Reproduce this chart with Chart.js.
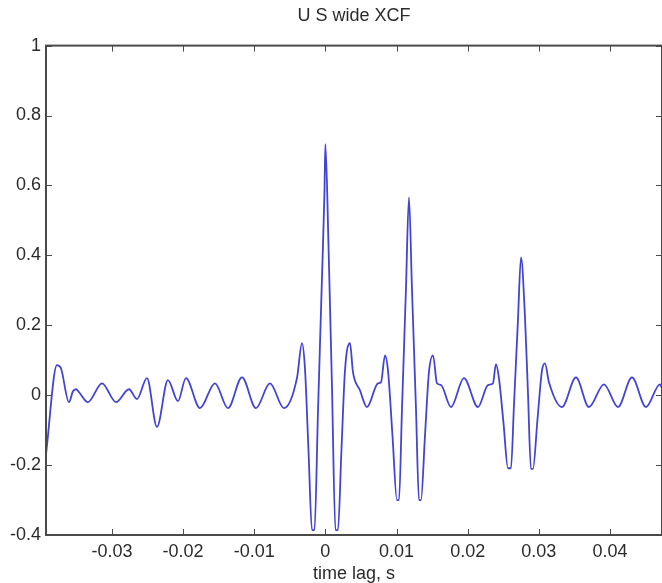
<!DOCTYPE html>
<html>
<head>
<meta charset="utf-8">
<script src="https://cdn.jsdelivr.net/npm/chart.js@4/dist/chart.umd.min.js"></script>
<style>
  html, body { margin: 0; padding: 0; background: #fff; }
  #wrap { width: 662px; height: 583px; position: relative; }
</style>
</head>
<body>
<div id="wrap"><canvas id="xcf"></canvas></div>
<script>
// time lag (s) and cross-correlation
const lags = [
  -0.03927, -0.03773, -0.03717, -0.03604, -0.03548, -0.03506, -0.03464, -0.03337,
  -0.03140, -0.02943, -0.02761, -0.02648, -0.02508, -0.02367, -0.02213, -0.02072,
  -0.01960, -0.01763, -0.01552, -0.01369, -0.01172, -0.00976, -0.00779, -0.00582,
  -0.00399, -0.00329, -0.00287, -0.00238, -0.00188, -0.00153, -0.00104, -0.00048,
  -0.00013, 0.00000, 0.00044, 0.00093, 0.00142, 0.00177, 0.00226, 0.00276,
  0.00346, 0.00388, 0.00486, 0.00585, 0.00739, 0.00782, 0.00838, 0.00880,
  0.00943, 0.01006, 0.01035, 0.01077, 0.01133, 0.01175, 0.01217, 0.01274,
  0.01316, 0.01344, 0.01400, 0.01456, 0.01513, 0.01569, 0.01625, 0.01766,
  0.01948, 0.02145, 0.02286, 0.02356, 0.02398, 0.02440, 0.02504, 0.02567,
  0.02609, 0.02651, 0.02707, 0.02750, 0.02806, 0.02848, 0.02890, 0.02918,
  0.02981, 0.03045, 0.03087, 0.03143, 0.03326, 0.03523, 0.03705, 0.03916,
  0.04113, 0.04310, 0.04507, 0.04703, 0.04732
];
const xcf = [
  -0.169, 0.086, 0.077, -0.020, 0.011, 0.017, 0.009, -0.020,
  0.034, -0.020, 0.017, -0.011, 0.049, -0.091, 0.043, -0.017,
  0.049, -0.037, 0.034, -0.037, 0.051, -0.037, 0.034, -0.037,
  0.049, 0.149, 0.077, -0.154, -0.386, -0.386, -0.049, 0.334,
  0.576, 0.718, 0.429, 0.023, -0.386, -0.386, -0.157, 0.071,
  0.149, 0.066, 0.014, -0.034, 0.034, 0.037, 0.114, 0.071,
  -0.114, -0.300, -0.300, -0.040, 0.306, 0.566, 0.306, -0.040,
  -0.300, -0.300, -0.117, 0.066, 0.114, 0.034, 0.029, -0.034,
  0.049, -0.034, 0.029, 0.034, 0.089, 0.049, -0.080, -0.209,
  -0.209, -0.029, 0.214, 0.394, 0.223, 0.006, -0.211, -0.211,
  -0.071, 0.071, 0.091, 0.037, -0.034, 0.051, -0.034, 0.031,
  -0.034, 0.051, -0.034, 0.031, 0.020
];
const xTicks = [-0.03, -0.02, -0.01, 0, 0.01, 0.02, 0.03, 0.04];
const yTicks = [-0.4, -0.2, 0, 0.2, 0.4, 0.6, 0.8, 1];

const FONT = "'Liberation Sans', Arial, sans-serif";
const INK = "#2b2b2b";

// matlab style box with inward ticks
const frame = {
  id: "frame",
  afterDatasetsDraw(chart) {
    const { ctx, chartArea: a, scales: { x, y } } = chart;
    ctx.save();
    ctx.strokeStyle = "#4a4a4a";
    ctx.lineWidth = 2;
    ctx.strokeRect(a.left, a.top, a.right - a.left, a.bottom - a.top);
    ctx.beginPath();
    x.ticks.forEach(t => {
      const p = Math.round(x.getPixelForValue(t.value)) + 0.5;
      ctx.moveTo(p, a.bottom); ctx.lineTo(p, a.bottom - 6);
      ctx.moveTo(p, a.top); ctx.lineTo(p, a.top + 6);
    });
    y.ticks.forEach(t => {
      const p = Math.round(y.getPixelForValue(t.value)) + 0.5;
      ctx.moveTo(a.left, p); ctx.lineTo(a.left + 6, p);
      ctx.moveTo(a.right, p); ctx.lineTo(a.right - 6, p);
    });
    ctx.lineWidth = 1;
    ctx.stroke();
    ctx.restore();
  }
};

new Chart(document.getElementById("xcf"), {
  type: "scatter",
  data: {
    datasets: [{
      data: lags.map((t, i) => ({ x: t, y: xcf[i] })),
      showLine: true,
      borderColor: "#4343d4",
      borderWidth: 1.8,
      pointRadius: 0,
      cubicInterpolationMode: "monotone"
    }]
  },
  options: {
    responsive: true,
    maintainAspectRatio: false,
    animation: false,
    layout: { padding: { left: 0, right: 0, top: 0, bottom: 0 } },
    plugins: {
      legend: { display: false },
      tooltip: { enabled: false },
      title: {
        display: true,
        fullSize: false,
        text: "U S wide XCF",
        color: INK,
        font: { family: FONT, size: 18, weight: "normal" },
        padding: { top: 5, bottom: 19 }
      }
    },
    scales: {
      x: {
        type: "linear",
        min: -0.03927,
        max: 0.04732,
        afterBuildTicks: s => { s.ticks = xTicks.map(v => ({ value: v })); },
        afterFit: s => { s.height = 48; },
        grid: { display: false, drawTicks: false },
        border: { display: false },
        ticks: {
          color: INK,
          padding: 6,
          maxRotation: 0,
          font: { family: FONT, size: 18 },
          callback: v => String(Number(v.toFixed(2)))
        },
        title: {
          display: true,
          text: "time lag, s",
          color: INK,
          font: { family: FONT, size: 18 },
          padding: { top: 0, bottom: -2 }
        }
      },
      y: {
        min: -0.4,
        max: 1,
        afterBuildTicks: s => { s.ticks = yTicks.map(v => ({ value: v })); },
        afterFit: s => { s.width = 46; },
        grid: { display: false, drawTicks: false },
        border: { display: false },
        ticks: {
          color: INK,
          padding: 5,
          font: { family: FONT, size: 18 },
          callback: v => String(Number(v.toFixed(1)))
        }
      }
    }
  },
  plugins: [frame]
});
</script>
</body>
</html>
